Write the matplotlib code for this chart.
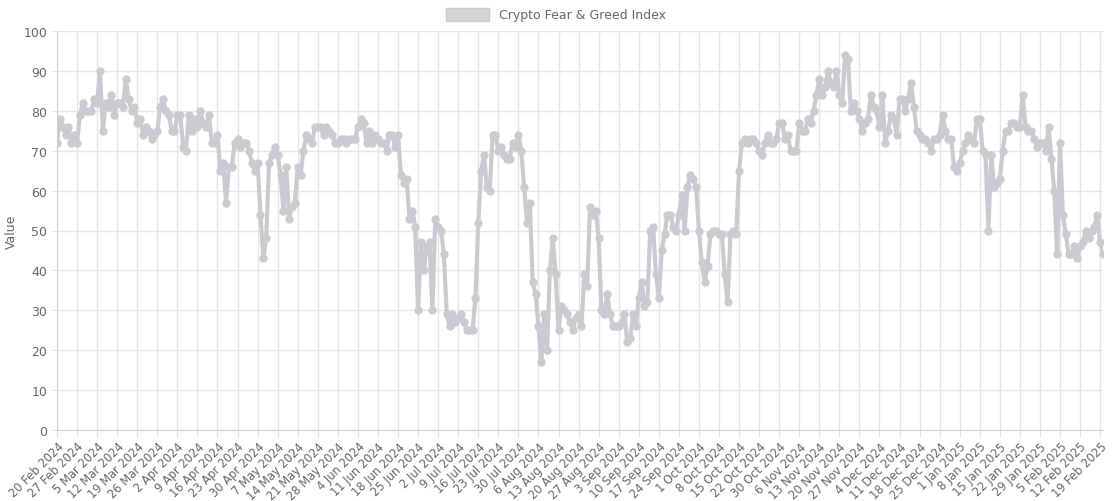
import matplotlib
matplotlib.use("Agg")
import matplotlib.pyplot as plt
import matplotlib.patches as mpatches
import datetime as dt

start = dt.date(2024, 2, 20)
missing_day = dt.date(2024, 10, 23)
values = [
72,78,76,74,76,72,74,
72,79,82,80,80,80,83,
82,90,75,82,81,84,79,
82,82,81,88,83,80,81,
77,78,74,76,75,73,74,
75,81,83,80,79,75,75,
79,79,71,70,79,75,78,
76,80,77,76,79,72,72,
74,65,67,57,66,66,72,
73,71,72,72,70,67,65,
67,54,43,48,67,69,71,
69,64,55,66,53,56,57,
66,64,70,74,73,72,76,
76,76,74,76,75,74,72,
72,73,73,72,73,73,73,
76,78,77,72,75,72,74,
73,72,72,70,74,74,71,
74,64,62,63,53,55,51,
30,47,40,46,47,30,53,
51,50,44,29,26,29,27,
28,29,27,25,25,25,33,
52,65,69,61,60,74,74,
70,71,69,68,68,72,71,
74,70,61,52,57,37,34,
26,17,29,20,40,48,39,
25,31,30,29,27,25,28,
29,26,39,36,56,54,55,
48,30,29,34,29,26,26,
26,27,29,22,23,29,26,
33,37,31,32,50,51,39,
33,45,49,54,54,51,50,
54,59,50,61,64,63,61,
50,42,37,41,49,50,50,
49,49,39,32,49,50,49,
65,72,73,72,73,73,72,
70,69,72,74,72,72,73,
77,77,73,74,70,70,70,
77,75,75,78,77,80,84,
88,84,86,90,87,86,90,
84,82,94,93,80,82,80,
78,75,77,78,84,81,80,
76,84,72,75,79,78,74,
83,83,80,83,87,81,75,
74,73,73,72,70,73,73,
74,79,75,73,73,66,65,
67,70,72,74,73,72,78,
78,70,69,50,69,61,62,
63,70,75,75,77,77,76,
76,84,76,75,75,73,71,
72,72,70,76,68,60,44,
72,54,49,44,44,46,43,
46,47,50,48,50,51,54,
47,44,
]
dates = []
d = start
while len(dates) < len(values):
    if d != missing_day:
        dates.append(d)
    d += dt.timedelta(days=1)
idx = list(range(len(values)))
tick_idx = list(range(0, len(values), 7))
tick_labels = [dates[i].strftime("%-d %b %Y") for i in tick_idx]

col = "#c9cbcf"
fig = plt.figure(figsize=(11.12, 5.02), dpi=100)
ax = fig.add_axes([57/1112, 1-431/502, (1103-57)/1112, (431-32)/502])
ax.plot(idx, values, color=col, lw=3, marker="o", ms=5, mfc=col, mec=col)
ax.set_xlim(0, len(values)-1)
ax.set_ylim(0, 100)
ax.set_yticks(range(0, 101, 10))
ax.set_xticks(tick_idx)
ax.set_xticklabels(tick_labels, rotation=45, ha="right", rotation_mode="anchor", fontsize=8.3, color="#666")
ax.tick_params(axis="y", labelsize=9, colors="#666")
ax.tick_params(axis="x", colors="#666", length=5, pad=2)
ax.tick_params(color="#e0e0e0")
ax.grid(True, color="#e5e5e5", lw=1)
ax.set_axisbelow(True)
for s in ["top", "right"]:
    ax.spines[s].set_visible(False)
for s in ["left", "bottom"]:
    ax.spines[s].set_color("#d0d0d0")
ax.set_ylabel("Value", fontsize=9, color="#666")
fig.legend(handles=[mpatches.Patch(facecolor="#d4d4d4", edgecolor=col, label="Crypto Fear & Greed Index")],
           loc="upper center", bbox_to_anchor=(0.5, 1.005), frameon=False, fontsize=9,
           handlelength=3.5, handleheight=1.2, labelcolor="#666")
fig.savefig("out.png", dpi=100)
